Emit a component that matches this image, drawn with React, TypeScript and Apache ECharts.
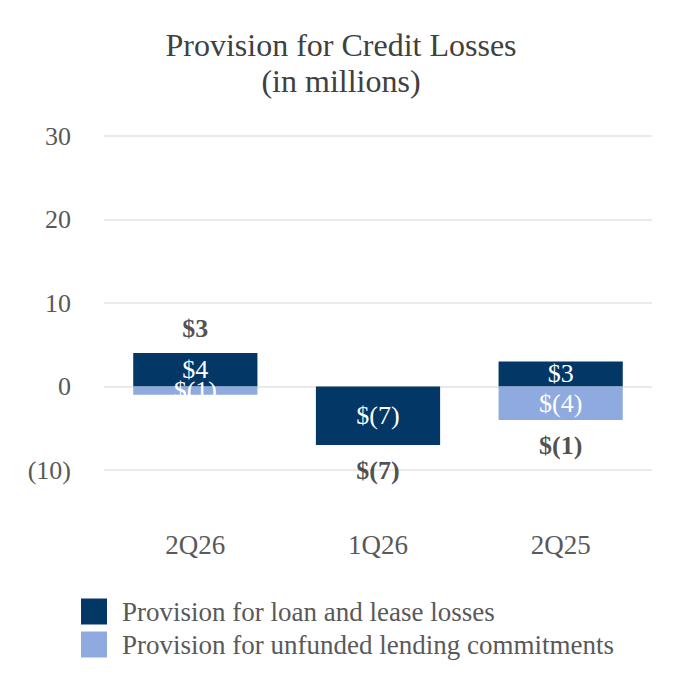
import React, { useEffect, useRef } from "react";
import * as echarts from "echarts";

const categories = ["2Q26", "1Q26", "2Q25"];
const loanLosses = [4, -7, 3];
const unfundedCommitments = [-1, 0, -4];
const yTicks = [-10, 0, 10, 20, 30];

const fmt = (v: number) => (v < 0 ? `$(${-v})` : `$${v}`);

export default function App() {
  const ref = useRef<HTMLDivElement>(null);
  useEffect(() => {
    if (!ref.current) return;
    const chart = echarts.init(ref.current, undefined, { renderer: "svg" });
    const font = "'Liberation Serif', 'Times New Roman', serif";
    const totals = categories.map((_, i) => {
      const vals = [loanLosses[i], unfundedCommitments[i]];
      const t = vals.reduce((a, b) => a + b, 0);
      const pos = vals.filter((v) => v > 0).reduce((a, b) => a + b, 0);
      const neg = vals.filter((v) => v < 0).reduce((a, b) => a + b, 0);
      return {
        value: t >= 0 ? pos : neg,
        total: t,
        label: { position: t >= 0 ? "top" : "bottom", distance: t >= 0 ? 12 : 13 },
      };
    });
    chart.setOption({
      animation: false,
      textStyle: { fontFamily: font },
      title: {
        text: "Provision for Credit Losses\n(in millions)",
        left: "center",
        top: 22,
        textStyle: { fontFamily: font, fontSize: 32, fontWeight: "normal", color: "#404040", lineHeight: 36 },
      },
      legend: {
        orient: "vertical",
        left: 76,
        top: 593,
        itemWidth: 26,
        itemHeight: 26,
        itemGap: 6,
        icon: "rect",
        textStyle: { fontFamily: font, fontSize: 27, color: "#595959", padding: [0, 0, 0, 10] },
        data: ["Provision for loan and lease losses", "Provision for unfunded lending commitments"],
      },
      grid: { left: 104, right: 30, top: 136, bottom: 230 },
      xAxis: {
        type: "category",
        data: categories,
        axisLine: { show: false },
        axisTick: { show: false },
        axisLabel: { margin: 61, fontFamily: font, fontSize: 27, color: "#595959" },
      },
      yAxis: {
        type: "value",
        min: yTicks[0],
        max: yTicks[yTicks.length - 1],
        interval: 10,
        axisLabel: {
          margin: 33,
          fontFamily: font,
          fontSize: 26,
          color: "#595959",
          formatter: (v: number) => (v < 0 ? `(${-v})` : `${v}`),
        },
        splitLine: { lineStyle: { color: "#e3e3e3", width: 1.5 } },
      },
      series: [
        {
          name: "Provision for loan and lease losses",
          type: "bar",
          stack: "total",
          barWidth: "68%",
          data: loanLosses,
          itemStyle: { color: "#023766" },
          label: {
            show: true,
            position: "inside",
            color: "#ffffff",
            fontFamily: font,
            fontSize: 26,
            formatter: (p: any) => (p.value === 0 ? "" : fmt(p.value)),
          },
        },
        {
          name: "Provision for unfunded lending commitments",
          type: "bar",
          stack: "total",
          barWidth: "68%",
          data: unfundedCommitments,
          itemStyle: { color: "#8eaadf" },
          label: {
            show: true,
            position: "inside",
            color: "#ffffff",
            fontFamily: font,
            fontSize: 26,
            formatter: (p: any) => (p.value === 0 ? "" : fmt(p.value)),
          },
        },
        {
          name: "total",
          type: "scatter",
          symbolSize: 0,
          data: totals,
          silent: true,
          label: {
            show: true,
            color: "#222222",
            fontFamily: font,
            fontSize: 26,
            fontWeight: "bold",
            formatter: (p: any) => fmt(p.data.total),
          },
        },
      ],
    });
    return () => chart.dispose();
  }, []);
  return (
    <div
      ref={ref}
      style={{ position: "fixed", left: 0, top: 0, width: 682, height: 700, background: "#ffffff" }}
    />
  );
}
